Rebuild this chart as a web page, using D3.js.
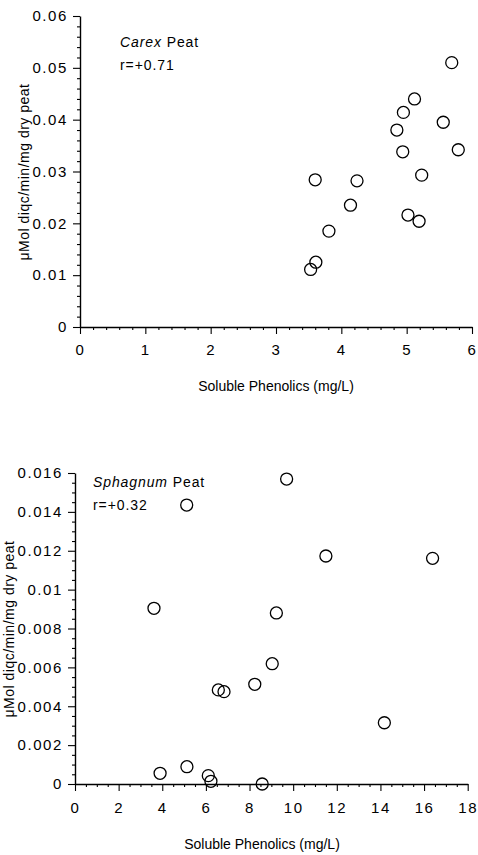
<!DOCTYPE html>
<html>
<head>
<meta charset="utf-8">
<script src="https://cdn.jsdelivr.net/npm/d3@7"></script>
<style>
  body { margin: 0; background: #fff; }
  svg text { font-family: "Liberation Sans", Arial, sans-serif; fill: #000; }
</style>
</head>
<body>
<div class="display"></div>
<script>
// Carex peat panel
const carexX = [5.69, 5.12, 4.95, 4.85, 5.56, 4.94, 5.79, 5.23, 3.60, 4.24, 4.14, 3.81, 5.02, 5.19, 3.61, 3.53];
const carexY = [0.0510, 0.0440, 0.0414, 0.0380, 0.0395, 0.0338, 0.0342, 0.0293, 0.0284, 0.0282, 0.0235, 0.0185, 0.0216, 0.0204, 0.0125, 0.0111];

// Sphagnum peat panel
const sphagX = [5.12, 3.62, 9.70, 11.50, 16.39, 9.23, 6.57, 6.83, 3.90, 5.13, 6.11, 6.23, 9.04, 8.24, 14.18, 8.58];
const sphagY = [0.01435, 0.00904, 0.01569, 0.01173, 0.01161, 0.00880, 0.00484, 0.00475, 0.00055, 0.00089, 0.00043, 0.00014, 0.00619, 0.00513, 0.00315, 0.0];

const carexXTicks = [0, 1, 2, 3, 4, 5, 6];
const carexYTicks = [0, 0.01, 0.02, 0.03, 0.04, 0.05, 0.06];
const sphagXTicks = [0, 2, 4, 6, 8, 10, 12, 14, 16, 18];
const sphagYTicks = [0, 0.002, 0.004, 0.006, 0.008, 0.01, 0.012, 0.014, 0.016];

const yTitle = 'μMol diqc/min/mg dry peat';
const xTitle = 'Soluble Phenolics (mg/L)';

const width = 478;
const height = 855;

const svg = d3.select('.display')
  .append('svg')
  .attr('width', width)
  .attr('height', height);

const fmt = d => String(+d.toFixed(4));

function panel(cfg) {
  const x = d3.scaleLinear().domain([0, cfg.xTicks[cfg.xTicks.length - 1]]).range([cfg.left, cfg.right]);
  const y = d3.scaleLinear().domain([0, cfg.yTicks[cfg.yTicks.length - 1]]).range([cfg.bottom, cfg.top]);

  const isMajor = (v, majors) => majors.some(m => Math.abs(m - v) < 1e-9);
  const xMinor = d3.range(0, x.domain()[1], cfg.xMinorStep).filter(v => !isMajor(v, cfg.xTicks));
  const yMinor = d3.range(0, y.domain()[1], cfg.yMinorStep).filter(v => !isMajor(v, cfg.yTicks));

  const g = svg.append('g');

  // minor ticks
  g.append('g')
    .attr('transform', `translate(0, ${cfg.bottom})`)
    .call(d3.axisBottom(x).tickValues(xMinor).tickSize(3).tickSizeOuter(0).tickFormat(''))
    .call(a => a.select('.domain').remove());
  g.append('g')
    .attr('transform', `translate(${cfg.left}, 0)`)
    .call(d3.axisLeft(y).tickValues(yMinor).tickSize(3).tickSizeOuter(0).tickFormat(''))
    .call(a => a.select('.domain').remove());

  // major ticks + labels
  g.append('g')
    .attr('transform', `translate(0, ${cfg.bottom})`)
    .call(d3.axisBottom(x).tickValues(cfg.xTicks).tickSize(7).tickSizeOuter(0).tickPadding(cfg.xPad).tickFormat(d => d));
  g.append('g')
    .attr('transform', `translate(${cfg.left}, 0)`)
    .call(d3.axisLeft(y).tickValues(cfg.yTicks).tickSize(7).tickSizeOuter(0).tickPadding(5).tickFormat(fmt));

  g.selectAll('.tick line').attr('stroke', '#000').attr('stroke-width', 1.1);
  g.selectAll('.domain').attr('stroke', '#000').attr('stroke-width', 1.4);
  g.selectAll('.tick text')
    .attr('font-size', 15)
    .attr('letter-spacing', '1.6px')
    .style('font-family', '"Liberation Sans", Arial, sans-serif');

  // points
  g.append('g')
    .selectAll('circle')
    .data(cfg.xs.map((v, i) => [v, cfg.ys[i]]))
    .enter()
    .append('circle')
    .attr('cx', d => x(d[0]))
    .attr('cy', d => y(d[1]))
    .attr('r', 6)
    .attr('fill', 'none')
    .attr('stroke', '#000')
    .attr('stroke-width', 1.3);

  // annotation
  const note = g.append('text')
    .attr('x', cfg.noteX)
    .attr('y', cfg.noteY)
    .attr('font-size', 14)
    .attr('letter-spacing', '0.9px');
  note.append('tspan').attr('font-style', 'italic').text(cfg.species);
  note.append('tspan').text(' Peat');
  g.append('text')
    .attr('x', cfg.noteX)
    .attr('y', cfg.noteY + 23)
    .attr('font-size', 14)
    .attr('letter-spacing', '0.9px')
    .text(cfg.r);

  // axis titles
  g.append('text')
    .attr('x', cfg.xTitleX)
    .attr('y', cfg.xTitleY)
    .attr('text-anchor', 'middle')
    .attr('font-size', 14)
    .text(xTitle);
  g.append('text')
    .attr('transform', `translate(${cfg.yTitleX}, ${cfg.yTitleY}) rotate(-90)`)
    .attr('text-anchor', 'middle')
    .attr('font-size', 14)
    .attr('letter-spacing', '0.5px')
    .text(yTitle);
}

panel({
  xs: carexX, ys: carexY,
  xTicks: carexXTicks, yTicks: carexYTicks,
  xMinorStep: 0.2, yMinorStep: 0.002,
  left: 80, right: 472, top: 16, bottom: 327,
  xPad: 10,
  species: 'Carex', r: 'r=+0.71', noteX: 120, noteY: 47,
  xTitleX: 276, xTitleY: 391,
  yTitleX: 29, yTitleY: 172
});

panel({
  xs: sphagX, ys: sphagY,
  xTicks: sphagXTicks, yTicks: sphagYTicks,
  xMinorStep: 0.5, yMinorStep: 0.0005,
  left: 75, right: 467.7, top: 473, bottom: 784,
  xPad: 11,
  species: 'Sphagnum', r: 'r=+0.32', noteX: 93, noteY: 487,
  xTitleX: 262, xTitleY: 849,
  yTitleX: 14, yTitleY: 629
});
</script>
</body>
</html>
